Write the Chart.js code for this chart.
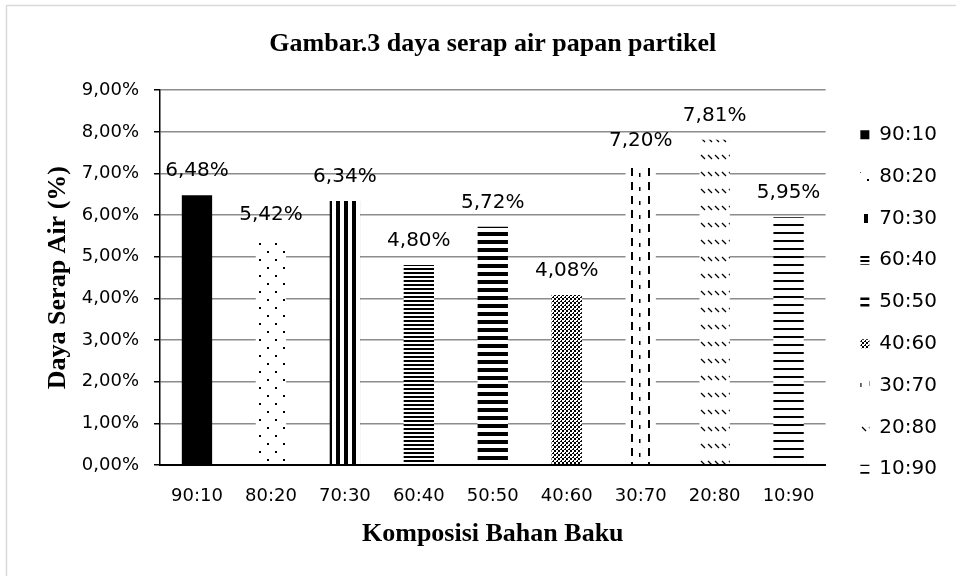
<!DOCTYPE html>
<html>
<head>
<meta charset="utf-8">
<script src="https://cdn.jsdelivr.net/npm/chart.js@4"></script>
<style>
html,body{margin:0;padding:0;background:#fff;}
#wrap{width:956px;height:576px;position:relative;}
</style>
</head>
<body>
<div id="wrap"><canvas id="c" width="956" height="576"></canvas></div>
<script>
// ---- data ----
const categories = ['90:10','80:20','70:30','60:40','50:50','40:60','30:70','20:80','10:90'];
const values = [6.48, 5.42, 6.34, 4.80, 5.72, 4.08, 7.20, 7.81, 5.95];
const yTicks = [0,1,2,3,4,5,6,7,8,9];
const chartTitle = 'Gambar.3 daya serap air papan partikel';
const xTitle = 'Komposisi Bahan Baku';
const yTitle = 'Daya Serap Air (%)';

const canvas = document.getElementById('c');
const ctx = canvas.getContext('2d');

function tile(w, h, draw) {
  const c = document.createElement('canvas');
  c.width = w; c.height = h;
  const g = c.getContext('2d');
  g.fillStyle = '#fff'; g.fillRect(0, 0, w, h);
  g.fillStyle = '#000'; g.strokeStyle = '#000';
  draw(g);
  return ctx.createPattern(c, 'repeat');
}
const patterns = [
  '#000000',
  tile(16, 16, g => { g.fillRect(3, 3, 2, 2); g.fillRect(11, 11, 2, 2); }),
  tile(8, 4, g => { g.fillRect(0, 0, 4, 4); }),
  tile(4, 4, g => { g.fillRect(0, 0, 4, 2); }),
  tile(4, 8, g => { g.fillRect(0, 0, 4, 4); }),
  tile(4, 4, g => { g.fillRect(0, 0, 2, 2); g.fillRect(2, 2, 2, 2); g.fillStyle='#fff'; g.fillRect(0,0,1,1); }),
  tile(17, 28, g => { g.fillRect(2, 0, 2, 8); g.fillRect(2, 14, 2, 8); g.fillRect(10, 5, 1.5, 4); g.fillRect(10, 19, 1.5, 4); }),
  tile(7, 17, g => { g.lineWidth = 1.3; g.beginPath(); g.moveTo(1, 2); g.lineTo(5, 6); g.stroke(); }),
  tile(4, 8, g => { g.fillRect(0, 0, 4, 2); })
];

const fmt = v => v.toFixed(2).replace('.', ',') + '%';
const SANS = "'DejaVu Sans', sans-serif";
const SERIF = "'Liberation Serif', 'Times New Roman', serif";

const frame = {
  id: 'frame',
  beforeDraw(chart) {
    const c = chart.ctx;
    c.save();
    c.fillStyle = '#fff';
    c.fillRect(0, 0, chart.width, chart.height);
    c.strokeStyle = '#d9d9d9';
    c.lineWidth = 1.5;
    c.strokeRect(6.5, 5.5, 2000, 2000);
    c.restore();
  }
};

// nudge the legend block to the right/down inside its slot
const legendNudge = {
  id: 'legendNudge',
  afterLayout(chart) {
    const lg = chart.legend;
    if (!lg) return;
    lg.left += 13; lg.right += 13;
    lg.top += 14; lg.bottom += 14;
  }
};

const valueLabels = {
  id: 'valueLabels',
  afterDatasetsDraw(chart) {
    const c = chart.ctx;
    const meta = chart.getDatasetMeta(0);
    c.save();
    c.font = "20px " + SANS;
    c.fillStyle = '#000';
    c.textAlign = 'center';
    c.textBaseline = 'alphabetic';
    meta.data.forEach((bar, i) => {
      c.fillText(fmt(values[i]), bar.x, bar.y - 19);
    });
    c.restore();
  }
};

Chart.defaults.color = '#000';
Chart.defaults.font.family = SANS;

new Chart(ctx, {
  type: 'bar',
  data: {
    labels: categories,
    datasets: [{
      data: values,
      backgroundColor: patterns,
      borderWidth: 0,
      barPercentage: 0.41,
      categoryPercentage: 1
    }]
  },
  options: {
    responsive: false,
    animation: false,
    events: [],
    layout: { padding: { left: 0, right: 22, top: 0, bottom: 0 } },
    plugins: {
      title: {
        display: true,
        fullSize: false,
        text: chartTitle,
        color: '#000',
        font: { family: SERIF, size: 26, weight: 'bold' },
        padding: { top: 29, bottom: 30 }
      },
      legend: {
        display: true,
        position: 'right',
        align: 'center',
        labels: {
          color: '#000',
          font: { family: SANS, size: 20 },
          boxWidth: 9,
          boxHeight: 9,
          padding: 21.8,
          generateLabels: () => categories.map((c, i) => ({
            text: c,
            fillStyle: patterns[i],
            strokeStyle: 'rgba(0,0,0,0)',
            lineWidth: 0,
            hidden: false,
            index: i,
            datasetIndex: 0,
            fontColor: '#000'
          }))
        }
      },
      tooltip: { enabled: false }
    },
    scales: {
      x: {
        grid: { display: false, drawTicks: false },
        border: { display: true, color: '#000', width: 2, z: 1 },
        ticks: { font: { family: SANS, size: 18 }, padding: 21, color: '#000' },
        title: {
          display: true, text: xTitle, color: '#000',
          font: { family: SERIF, size: 26, weight: 'bold' },
          padding: { top: 0, bottom: 26 }
        },
        afterFit: s => { s.height = 111; }
      },
      y: {
        min: 0, max: 9,
        afterBuildTicks: s => { s.ticks = yTicks.map(v => ({ value: v })); },
        grid: {
          color: c => (c.tick && c.tick.value === 0) ? 'rgba(0,0,0,0)' : '#8c8c8c',
          lineWidth: 1.5,
          tickColor: '#000',
          tickLength: 6,
          tickWidth: 1.5
        },
        border: { display: true, color: '#000', width: 1.5 },
        ticks: { font: { family: SANS, size: 18 }, padding: 15, color: '#000', callback: v => fmt(v) },
        title: {
          display: true, text: yTitle, color: '#000',
          font: { family: SERIF, size: 26, weight: 'bold' },
          padding: { top: 43, bottom: 0 }
        },
        afterFit: s => { s.width = 160; }
      }
    }
  },
  plugins: [frame, legendNudge, valueLabels]
});
</script>
</body>
</html>
